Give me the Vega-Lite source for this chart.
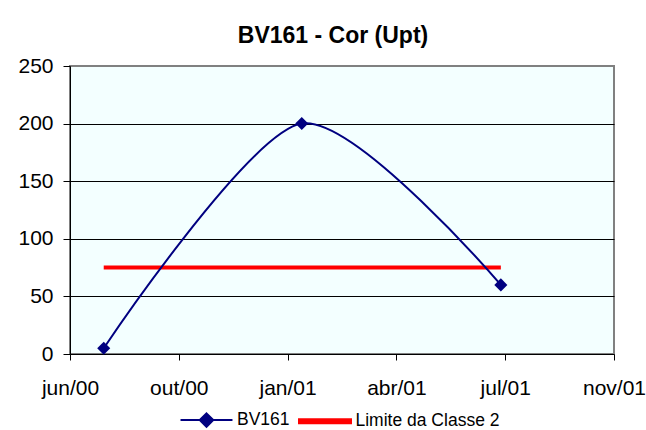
{
  "$schema": "https://vega.github.io/schema/vega-lite/v6.json",
  "width": 544,
  "height": 288,
  "autosize": {"type": "none"},
  "padding": {"left": 70, "top": 66, "right": 32, "bottom": 76},
  "background": "white",
  "config": {
    "font": "Liberation Sans",
    "view": {"fill": "#F3FFFF", "stroke": "#808080", "strokeWidth": 2}
  },
  "title": {
    "text": "BV161 - Cor (Upt)",
    "font": "Liberation Sans",
    "fontSize": 23,
    "fontWeight": "bold",
    "color": "black",
    "anchor": "middle",
    "frame": "group",
    "baseline": "alphabetic",
    "offset": 14,
    "dx": -9,
    "dy": 25
  },
  "data": {
    "values": [
      {"data": "2000-07-24", "valor": 5, "serie": "BV161"},
      {"data": "2001-01-22", "valor": 200, "serie": "BV161"},
      {"data": "2001-07-24", "valor": 60, "serie": "BV161"},
      {"data": "2000-07-24", "valor": 75, "serie": "Limite da Classe 2"},
      {"data": "2001-07-24", "valor": 75, "serie": "Limite da Classe 2"}
    ]
  },
  "encoding": {
    "x": {
      "field": "data",
      "type": "temporal",
      "scale": {
        "type": "utc",
        "domain": [
          {"year": 2000, "month": 6, "date": 23, "utc": true},
          {"year": 2001, "month": 11, "date": 5, "utc": true}
        ]
      },
      "axis": {
        "title": null,
        "grid": false,
        "values": [
          {"year": 2000, "month": 6, "date": 23, "utc": true},
          {"year": 2000, "month": 10, "date": 1, "utc": true},
          {"year": 2001, "month": 1, "date": 9, "utc": true},
          {"year": 2001, "month": 4, "date": 19, "utc": true},
          {"year": 2001, "month": 7, "date": 28, "utc": true},
          {"year": 2001, "month": 11, "date": 5, "utc": true}
        ],
        "labelExpr": "['jan','fev','mar','abr','mai','jun','jul','ago','set','out','nov','dez'][utcmonth(datum.value)] + '/' + utcFormat(datum.value, '%y')",
        "labelFontSize": 21,
        "labelColor": "black",
        "labelPadding": 17,
        "labelOverlap": false,
        "labelFlush": false,
        "domainColor": "black",
        "domainWidth": 1,
        "tickColor": "black",
        "tickSize": 6,
        "tickWidth": 1
      }
    },
    "y": {
      "field": "valor",
      "type": "quantitative",
      "scale": {"domain": [0, 250], "nice": false},
      "axis": {
        "title": null,
        "values": [0, 50, 100, 150, 200, 250],
        "grid": true,
        "gridColor": "black",
        "gridWidth": 1,
        "gridOpacity": {"condition": {"test": "datum.value === 250 || datum.value === 0", "value": 0}, "value": 1},
        "labelFontSize": 21,
        "labelColor": "black",
        "labelPadding": 10,
        "domainColor": "black",
        "domainWidth": 1,
        "tickColor": "black",
        "tickSize": 7,
        "tickWidth": 1
      }
    },
    "color": {
      "field": "serie",
      "type": "nominal",
      "scale": {"domain": ["BV161", "Limite da Classe 2"], "range": ["#000080", "#FF0000"]},
      "legend": {
        "orient": "none",
        "legendX": 109.5,
        "legendY": 327,
        "direction": "horizontal",
        "title": null,
        "padding": 0,
        "labelFontSize": 17.5,
        "labelColor": "black",
        "labelOffset": 3.5,
        "columnPadding": 4.5,
        "symbolSize": 2700,
        "symbolStrokeWidth": 2,
        "encode": {
          "symbols": {
            "update": {
              "shape": {"signal": "datum.value === 'BV161' ? 'M-1,0L1,0M0,-0.26L0.26,0L0,0.26L-0.26,0Z' : 'M-1,-0.077L1,-0.077L1,0.077L-1,0.077Z'"},
              "fill": {"signal": "datum.value === 'BV161' ? '#000080' : '#FF0000'"},
              "stroke": {"signal": "datum.value === 'BV161' ? '#000080' : 'transparent'"},
              "size": {"value": 2700},
              "strokeWidth": {"value": 2},
              "opacity": {"value": 1},
              "fillOpacity": {"value": 1},
              "strokeOpacity": {"value": 1}
            }
          }
        }
      }
    }
  },
  "layer": [
    {
      "transform": [{"filter": "datum.serie === 'Limite da Classe 2'"}],
      "mark": {"type": "line", "strokeWidth": 4}
    },
    {
      "transform": [{"filter": "datum.serie === 'BV161'"}],
      "mark": {"type": "line", "strokeWidth": 2, "interpolate": "cardinal", "tension": 0.2}
    },
    {
      "transform": [{"filter": "datum.serie === 'BV161'"}],
      "mark": {"type": "point", "shape": "diamond", "filled": true, "size": 170, "opacity": 1}
    }
  ]
}
